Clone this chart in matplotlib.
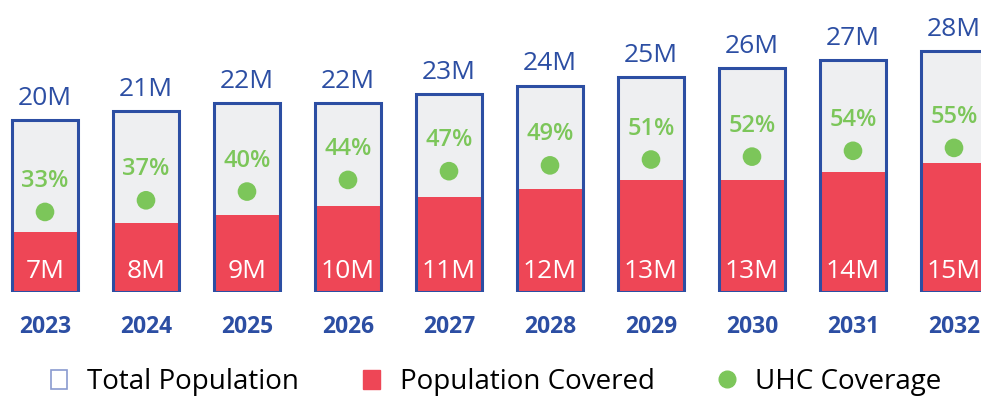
import matplotlib
matplotlib.use("Agg")
import matplotlib.pyplot as plt
from matplotlib.patches import Patch
from matplotlib.lines import Line2D

years = ["2023", "2024", "2025", "2026", "2027", "2028", "2029", "2030", "2031", "2032"]
total_pop = [20, 21, 22, 22, 23, 24, 25, 26, 27, 28]
covered = [7, 8, 9, 10, 11, 12, 13, 13, 14, 15]
uhc = [33, 37, 40, 44, 47, 49, 51, 52, 54, 55]

BLUE = "#2c4ea3"
RED = "#ee4656"
GREEN = "#7cc65a"
GRAY = "#eeeff1"

plt.rcParams['font.family'] = ['Open Sans', 'DejaVu Sans']

fig = plt.figure(figsize=(9.81, 3.96), dpi=100)
ax = fig.add_axes([0, (396 - 292) / 396, 1, 292 / 396])
ax.set_xlim(-45 / 101, (981 - 45) / 101)
ax.set_ylim(0, 292 / 8.6)
ax.axis('off')

x = list(range(len(years)))
w = 0.65
ax.bar(x, total_pop, width=w, color=GRAY, zorder=1)
ax.bar(x, covered, width=w, color=RED, zorder=2)
ax.bar(x, total_pop, width=w, facecolor='none', edgecolor=BLUE, linewidth=2.2, zorder=4)

for xi, t, c, yr in zip(x, total_pop, covered, years):
    ax.annotate(f"{t}M", (xi, t), xytext=(0, 11), textcoords='offset points',
                ha='center', va='baseline', fontsize=19, color=BLUE, zorder=5)
    ax.annotate(f"{c}M", (xi, 0), xytext=(0, 10), textcoords='offset points',
                ha='center', va='baseline', fontsize=19, color='white', zorder=5)
    ax.annotate(yr, (xi, 0), xytext=(0, -29.5), textcoords='offset points',
                ha='center', va='baseline', fontsize=16.5, color=BLUE,
                fontweight='bold', annotation_clip=False)

ax2 = ax.twinx()
ax2.set_ylim(5.5, 105.8)
ax2.axis('off')
ax2.scatter(x, uhc, s=180, color=GREEN, zorder=6, edgecolors='none')
for xi, p in zip(x, uhc):
    ax2.annotate(f"{p}%", (xi, p), xytext=(0, 18), textcoords='offset points',
                 ha='center', va='baseline', fontsize=17, color=GREEN,
                 fontweight='semibold')

handles = [
    Patch(facecolor='white', edgecolor='#8a9bd0', linewidth=1.2),
    Patch(facecolor=RED, edgecolor=RED),
    Line2D([], [], marker='o', linestyle='none', markersize=12,
           markerfacecolor=GREEN, markeredgecolor=GREEN),
]
labels = ["Total Population", "Population Covered", "UHC Coverage"]
fig.legend(handles, labels, loc='center', bbox_to_anchor=(496 / 981, 1 - 382 / 396),
           ncol=3, frameon=False, fontsize=20, handlelength=0.6, handleheight=0.7,
           handletextpad=0.72, columnspacing=2.3, borderpad=0, borderaxespad=0)

fig.savefig("out.png", dpi=100)
